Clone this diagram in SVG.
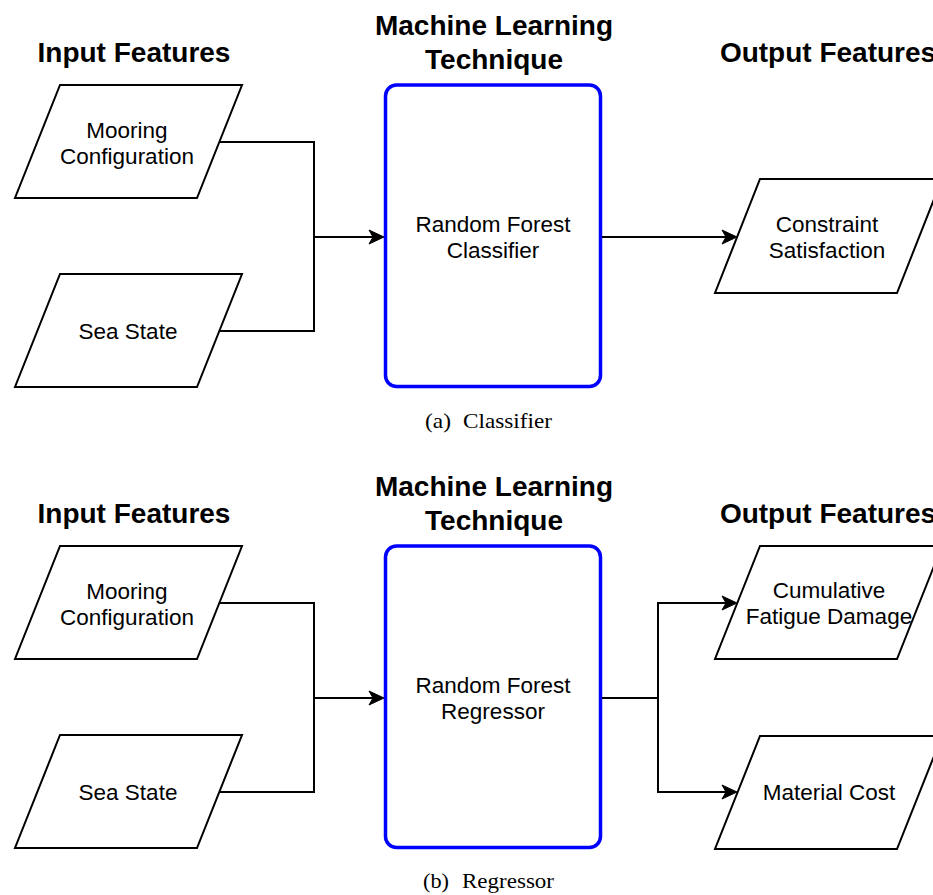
<svg xmlns="http://www.w3.org/2000/svg" width="933" height="895" viewBox="0 0 933 895">
<style>
.bg{fill:#ffffff}
.para{fill:#ffffff;stroke:#000000;stroke-width:2}
.ml{fill:#ffffff;stroke:#0000ff;stroke-width:3.5}
.title{font-family:"Liberation Sans",Arial,Helvetica,sans-serif;font-weight:bold;font-size:28px;fill:#000;text-anchor:middle}
.lbl{font-family:"Liberation Sans",Arial,Helvetica,sans-serif;font-size:22.5px;fill:#000;text-anchor:middle}
.cap{font-family:"Liberation Serif","Times New Roman",serif;font-size:21px;fill:#000}
.edge{fill:none;stroke:#000;stroke-width:2}
</style>
<defs>
<marker id="arr" markerUnits="userSpaceOnUse" markerWidth="18" markerHeight="18" viewBox="0 0 18 18" refX="8" refY="9" orient="auto">
<path d="M1,2 L16,9 L1,16 L5,9 Z" fill="#000" stroke="#000" stroke-width="1" stroke-linejoin="miter"/>
</marker>
</defs>
<rect class="bg" x="0" y="0" width="933" height="895"/>

<!-- (a) Classifier -->
<g id="title-input-a"><text class="title" x="134" y="62">Input Features</text></g>
<g id="title-ml-a"><text class="title" x="494" y="35">Machine Learning</text><text class="title" x="494" y="69">Technique</text></g>
<g id="title-output-a"><text class="title" x="828" y="62">Output Features</text></g>

<g id="mooring-a">
<polygon class="para" points="60,85 242,85 197,198 15,198"/>
<text class="lbl" x="127" y="138">Mooring</text>
<text class="lbl" x="127" y="164">Configuration</text>
</g>
<g id="seastate-a">
<polygon class="para" points="60,274 242,274 197,387 15,387"/>
<text class="lbl" x="128" y="339">Sea State</text>
</g>
<g id="rf-classifier">
<rect class="ml" x="385.5" y="85" width="215" height="301.5" rx="11" ry="11"/>
<text class="lbl" x="493" y="232">Random Forest</text>
<text class="lbl" x="493" y="258">Classifier</text>
</g>
<g id="constraint">
<polygon class="para" points="760,179 942,179 897,293 715,293"/>
<text class="lbl" x="827" y="232">Constraint</text>
<text class="lbl" x="827" y="258">Satisfaction</text>
</g>
<g id="caption-a"><text class="cap" x="425" y="428" textLength="26" lengthAdjust="spacingAndGlyphs">(a)</text><text class="cap" x="463" y="428" textLength="89" lengthAdjust="spacingAndGlyphs">Classifier</text></g>

<!-- (b) Regressor -->
<g id="title-input-b"><text class="title" x="134" y="523">Input Features</text></g>
<g id="title-ml-b"><text class="title" x="494" y="496">Machine Learning</text><text class="title" x="494" y="530">Technique</text></g>
<g id="title-output-b"><text class="title" x="828" y="523">Output Features</text></g>

<g id="mooring-b">
<polygon class="para" points="60,546 242,546 197,659 15,659"/>
<text class="lbl" x="127" y="599">Mooring</text>
<text class="lbl" x="127" y="625">Configuration</text>
</g>
<g id="seastate-b">
<polygon class="para" points="60,735 242,735 197,848 15,848"/>
<text class="lbl" x="128" y="800">Sea State</text>
</g>
<g id="rf-regressor">
<rect class="ml" x="385.5" y="546" width="215" height="301.5" rx="11" ry="11"/>
<text class="lbl" x="493" y="693">Random Forest</text>
<text class="lbl" x="493" y="719">Regressor</text>
</g>
<g id="fatigue">
<polygon class="para" points="760,546 942,546 897,659 715,659"/>
<text class="lbl" x="829" y="598">Cumulative</text>
<text class="lbl" x="829" y="624">Fatigue Damage</text>
</g>
<g id="cost">
<polygon class="para" points="760,736 942,736 897,849 715,849"/>
<text class="lbl" x="829" y="800">Material Cost</text>
</g>
<g id="caption-b"><text class="cap" x="423" y="888" textLength="26" lengthAdjust="spacingAndGlyphs">(b)</text><text class="cap" x="462" y="888" textLength="92" lengthAdjust="spacingAndGlyphs">Regressor</text></g>

<g id="connectors">
<path class="edge" d="M219.5,142 H314 V331 H219.5"/>
<path class="edge" d="M314,237 H376" marker-end="url(#arr)"/>
<path class="edge" d="M602,237 H729" marker-end="url(#arr)"/>
<path class="edge" d="M219.5,603 H314 V792 H219.5"/>
<path class="edge" d="M314,698 H376" marker-end="url(#arr)"/>
<path class="edge" d="M602,698 H658 V603 H729" marker-end="url(#arr)"/>
<path class="edge" d="M658,698 V792 H729" marker-end="url(#arr)"/>
</g>
</svg>
